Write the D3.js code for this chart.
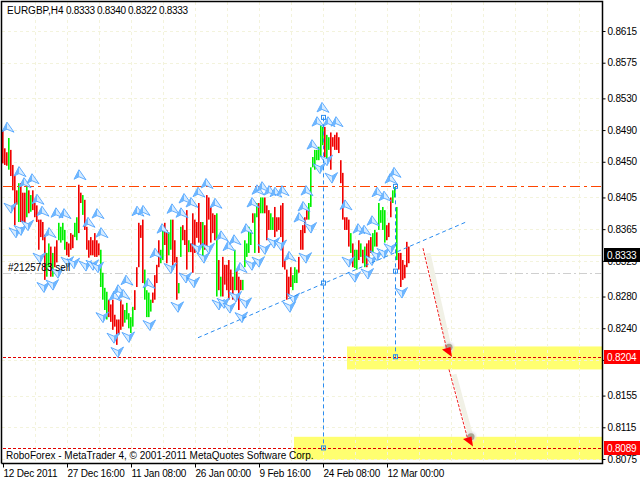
<!DOCTYPE html>
<html><head><meta charset="utf-8">
<script src="https://cdn.jsdelivr.net/npm/d3@7"></script>
<style>html,body{margin:0;padding:0;background:#fff;overflow:hidden}svg{display:block}text{font-family:"Liberation Sans",Arial,sans-serif;font-size:10px;fill:#000}</style>
</head><body><svg id="c" width="640" height="480"></svg>
<script>
const highs=[.8490,.8467,.8462,.8480,.8465,.8446,.8433,.8414,.8423,.8423,.8411,.8411,.8423,.8414,.8408,.8414,.8398,.8395,.8377,.8377,.8374,.8358,.8335,.8347,.8343,.8335,.8343,.8351,.8373,.8368,.8373,.8364,.8349,.8347,.8360,.8358,.8373,.8380,.8421,.8411,.8408,.8402,.8368,.8351,.8355,.8351,.8360,.8351,.8347,.8339,.8310,.8291,.8286,.8276,.8270,.8276,.8257,.8251,.8251,.8276,.8270,.8263,.8272,.8259,.8254,.8267,.8288,.8317,.8373,.8370,.8377,.8314,.8288,.8285,.8276,.8285,.8307,.8320,.8351,.8339,.8364,.8373,.8364,.8361,.8377,.8377,.8351,.8330,.8297,.8368,.8370,.8364,.8389,.8351,.8347,.8385,.8377,.8374,.8398,.8374,.8374,.8370,.8408,.8405,.8393,.8385,.8383,.8385,.8326,.8305,.8330,.8320,.8320,.8326,.8314,.8305,.8339,.8314,.8305,.8301,.8301,.8351,.8347,.8368,.8364,.8385,.8385,.8398,.8398,.8405,.8405,.8405,.8395,.8389,.8385,.8380,.8393,.8380,.8380,.8395,.8398,.8326,.8314,.8305,.8317,.8307,.8317,.8314,.8330,.8364,.8370,.8380,.8389,.8398,.8443,.8456,.8465,.8465,.8469,.8496,.8494,.8494,.8484,.8481,.8487,.8481,.8484,.8487,.8481,.8452,.8436,.8380,.8380,.8377,.8360,.8347,.8339,.8339,.8351,.8347,.8339,.8343,.8347,.8351,.8355,.8360,.8364,.8361,.8398,.8389,.8393,.8389,.8370,.8373,.8405,.8414,.8418,.8393,.8335,.8335,.8326,.8320,.8349,.8343];
const lows=[.8448,.8446,.8445,.8440,.8432,.8414,.8370,.8396,.8374,.8374,.8373,.8373,.8380,.8385,.8387,.8389,.8380,.8374,.8339,.8355,.8351,.8301,.8305,.8317,.8305,.8305,.8317,.8323,.8351,.8348,.8351,.8339,.8332,.8330,.8339,.8341,.8355,.8351,.8360,.8398,.8383,.8364,.8339,.8329,.8332,.8332,.8330,.8330,.8332,.8292,.8276,.8263,.8251,.8254,.8248,.8238,.8242,.8219,.8232,.8238,.8242,.8247,.8251,.8240,.8234,.8242,.8263,.8292,.8317,.8354,.8297,.8276,.8254,.8254,.8261,.8272,.8276,.8297,.8317,.8322,.8326,.8345,.8322,.8332,.8339,.8314,.8323,.8276,.8284,.8330,.8351,.8345,.8314,.8336,.8336,.8310,.8335,.8354,.8348,.8345,.8330,.8339,.8339,.8377,.8348,.8360,.8351,.8280,.8288,.8280,.8280,.8295,.8288,.8276,.8288,.8276,.8288,.8288,.8263,.8288,.8288,.8317,.8330,.8335,.8345,.8373,.8335,.8380,.8335,.8385,.8385,.8385,.8351,.8364,.8364,.8364,.8355,.8362,.8364,.8355,.8317,.8314,.8276,.8280,.8292,.8288,.8297,.8297,.8310,.8339,.8339,.8360,.8377,.8377,.8393,.8443,.8440,.8452,.8452,.8456,.8471,.8456,.8452,.8465,.8440,.8469,.8465,.8465,.8461,.8423,.8377,.8364,.8364,.8343,.8335,.8317,.8316,.8314,.8326,.8330,.8322,.8317,.8317,.8326,.8335,.8335,.8343,.8343,.8364,.8373,.8364,.8348,.8351,.8355,.8380,.8398,.8405,.8326,.8314,.8292,.8301,.8303,.8317,.8322];
const directions="ddduddddudddududdddddduududduuuudddduuddudddddddduuuudddddddduuuuuddddduuuudddduudduuddduudddudddddduddddddududddddduddduuuuuduuduuddduuddddddddduuuddddduuuuuuuuduudddddddddduduudududdduuduuuuddduuuddddddduudddu".split("");
const kiteUpBars=[2.5,8.5,11,15,17.5,20,23.5,27,31,38.5,43,47.5,49.5,56,58,60.5,62,67.5,70.5,73,76.5,80,85,89.5,91,94.5,98,102,106.5,109.5,113,116,119,122,125,127.5,130,133.5,136.5,140,143.5,148.5,150.5,152,155,157.5,160,163,167,171.5,178,181,185,187.5,191,194,196];
const kiteUpPrices=[.8493,.8437,.8423,.8428,.8402,.8387,.8360,.8385,.8384,.8433,.8373,.8384,.8360,.8280,.8288,.8282,.8300,.8387,.8388,.8296,.8334,.8365,.8390,.8385,.8403,.8398,.8411,.8422,.8397,.8356,.8343,.8351,.8316,.8365,.8398,.8414,.8418,.8413,.8411,.8413,.8330,.8379,.8393,.8413,.8471,.8500,.8518,.8500,.8500,.8395,.8365,.8363,.8375,.8411,.8406,.8428,.8436];
const kiteDownBars=[3.5,6,8.5,12,18,20,24.5,27,32,35,41,44.5,47,49.5,55,57,62.5,73,83.5,87,91,95,97,100,102.5,107.5,110,113,116,119,121,124,127.5,130.5,135,138.5,143,145,151,153.5,158,161.5,164,172.5,175.5,182,184,186.5,190,193.5,199];
const kiteDownPrices=[.8392,.8361,.8364,.8370,.8329,.8292,.8295,.8310,.8324,.8322,.8319,.8320,.8317,.8254,.8228,.8210,.8229,.8244,.8316,.8267,.8304,.8298,.8341,.8329,.8341,.8270,.8272,.8266,.8280,.8254,.8272,.8320,.8324,.8340,.8348,.8345,.8267,.8278,.8329,.8367,.8442,.8452,.8430,.8324,.8305,.8309,.8326,.8332,.8335,.8341,.8285];
const priceTicks=[.8615,.8575,.8530,.8490,.8450,.8405,.8365,.8325,.8280,.8240,.8200,.8155,.8115,.8075];
const timeLabels=["12 Dec 2011","27 Dec 16:00","11 Jan 08:00","26 Jan 00:00","9 Feb 16:00","24 Feb 08:00","12 Mar 00:00"];
const headerSymbol="EURGBP,H4";
const headerValues=[.8333,.8340,.8322,.8333];
const bid=.8333, resistance=.8419, orderLevel=.8310;
const targets=[.8204,.8089];
const zoneBars=[172,145.5], zoneTops=[.8217,.8103], zoneBottoms=[.8188,.8074];
const trendBars=[97.5,231.5], trendPrices=[.8228,.8374];
const dropBars=[160,196], dropTops=[.8506,.8419], dropBottoms=[.8089,.8204], dropMids=[.8297,.8312];
const arrowFromBars=[210,223], arrowFromPrices=[.8341,.8188], arrowToBars=[222,232.5], arrowToPrices=[.8212,.8099], ballBars=[223,234], ballPrices=[.8216,.8103];

const svg=d3.select("#c");
const L=2,R=602,T=2,B=463;
const x=d3.scaleLinear().domain([0,299.5]).range([3,602]);
const y=d3.scaleLinear().domain([.8615,.8075]).range([31,459]);
svg.selectAll(".zone").data(zoneBars).join("rect").attr("x",d=>x(d)).attr("width",(d)=>R-x(d))
  .attr("y",(d,i)=>y(zoneTops[i])).attr("height",(d,i)=>y(zoneBottoms[i])-y(zoneTops[i])).attr("fill","#ffff70");
const gridX=d3.range(16,300,16);
const gc="#f3f3dc";
svg.append("g").selectAll("line").data(gridX).join("line").attr("x1",d=>Math.round(x(d))+.5).attr("x2",d=>Math.round(x(d))+.5).attr("y1",T).attr("y2",B).attr("stroke",gc).attr("stroke-dasharray","3,3");
svg.append("g").selectAll("line").data(priceTicks).join("line").attr("x1",L).attr("x2",R).attr("y1",d=>Math.round(y(d))+.5).attr("y2",d=>Math.round(y(d))+.5).attr("stroke",gc).attr("stroke-dasharray","3,3");
const hl=(p,c,dash,x1)=>svg.append("line").attr("x1",x1||3).attr("x2",R-1).attr("y1",Math.round(y(p))+.5).attr("y2",Math.round(y(p))+.5).attr("stroke",c).attr("stroke-dasharray",dash);
hl(bid,"#f5f5c8",null);
hl(orderLevel,"#cfcfcf","8,3,2,3");
svg.append("g").selectAll("rect").data(highs).join("rect").attr("x",(d,i)=>x(i)-1).attr("width",1.6).attr("y",d=>y(d)).attr("height",(d,i)=>y(lows[i])-y(d)).attr("fill",(d,i)=>directions[i]==="u"?"#00f000":"#f00000");
hl(resistance,"#ff4500","10,4,3,4");
targets.forEach(t=>hl(t,"#e00000","3,2"));
// kites: a pale wing and a stronger wing, like the fractal arrows
const upShape="M-1,-5.5L6,4.5L-1,1.5L-6,4Z", upFacet="M-1,-5.5L-1,1.5L-6,4Z";
const downShape="M1,5.5L-6,-4.5L1,-1.5L6.5,-5Z", downFacet="M1,5.5L1,-1.5L6.5,-5Z";
const kite=(bs,ps,shape,facet)=>{
  const g=svg.append("g").selectAll("g").data(bs).join("g").attr("transform",(d,i)=>`translate(${x(d)},${y(ps[i])})`);
  g.append("path").attr("d",shape).attr("fill","#d6ebff").attr("stroke","#3d9bff").attr("stroke-width",.8);
  g.append("path").attr("d",facet).attr("fill","#6db6ff");
};
kite(kiteUpBars,kiteUpPrices,upShape,upFacet);
kite(kiteDownBars,kiteDownPrices,downShape,downFacet);
svg.append("line").attr("x1",x(trendBars[0])).attr("x2",x(trendBars[1])).attr("y1",y(trendPrices[0])).attr("y2",y(trendPrices[1])).attr("stroke","#2a8cf0").attr("stroke-width",1).attr("stroke-dasharray","4,3");
dropBars.forEach((b,i)=>{
  const X=Math.round(x(b))+.5;
  svg.append("line").attr("x1",X).attr("x2",X).attr("y1",y(dropTops[i])).attr("y2",y(dropBottoms[i])).attr("stroke","#2a8cf0").attr("stroke-dasharray","4,3");
  [dropTops[i],dropMids[i],dropBottoms[i]].forEach(p=>svg.append("rect").attr("x",X-2).attr("y",y(p)-2).attr("width",4).attr("height",4).attr("fill","none").attr("stroke","#2a8cf0"));
});
const defs=svg.append("defs");
const f=defs.append("filter").attr("id","soft");f.append("feGaussianBlur").attr("stdDeviation",.8);
arrowFromBars.forEach((b,i)=>{
  const x1=x(b),y1=y(arrowFromPrices[i]),x2=x(arrowToBars[i]),y2=y(arrowToPrices[i]);
  const bx=x(ballBars[i]),by=y(ballPrices[i]);
  svg.append("line").attr("x1",x1+5).attr("y1",y1+5).attr("x2",bx).attr("y2",by).attr("stroke","#f1f1e6").attr("stroke-width",5);
  svg.append("circle").attr("cx",bx).attr("cy",by).attr("r",5).attr("fill","#e4e0e4").attr("filter","url(#soft)");
  svg.append("circle").attr("cx",bx).attr("cy",by).attr("r",3.5).attr("fill","#a8a490");
  svg.append("line").attr("x1",x1).attr("y1",y1).attr("x2",x2).attr("y2",y2).attr("stroke","#f02020").attr("stroke-width",1).attr("stroke-dasharray","3,1.5");
  svg.append("path").attr("d",`M${x2-5},${y2-1}L${x2+3.5},${y2-3.5}L${x2+5},${y2+6.5}Z`).attr("fill","#ff0000");
});
svg.append("path").attr("d",`M${L-.5},${B+.5}V${T-.5}H${R+.5}V${B+.5}H${L-.5}`).attr("fill","none").attr("stroke","#000").attr("stroke-width",1.5);
const ya=d3.axisRight(y).tickValues(priceTicks).tickFormat(d3.format(".4f")).tickSize(3).tickPadding(2);
const yg=svg.append("g").attr("transform",`translate(${R+.5},0)`).call(ya);
const xa=d3.axisBottom(x).tickValues(timeLabels.map((d,i)=>i*32)).tickFormat((d,i)=>timeLabels[i]).tickSize(4).tickPadding(2);
const xg=svg.append("g").attr("transform",`translate(0,${B+.5})`).call(xa);
[yg,xg].forEach(g=>{g.select(".domain").remove();g.selectAll("line").attr("stroke","#000");g.selectAll("text").attr("fill","#000").style("font-size","10px").style("letter-spacing","-0.2px").style("font-family",'"Liberation Sans",Arial,sans-serif');});
xg.selectAll("text").attr("text-anchor","start").attr("dy","0.71em");
const tag=(p,bg)=>{const Y=y(p);
  svg.append("rect").attr("x",R+2).attr("y",Math.round(Y)-7).attr("width",36).attr("height",14).attr("fill",bg);
  svg.append("text").attr("x",R+5).attr("y",Math.round(Y)+4).style("fill","#fff").style("letter-spacing","-0.2px").text(d3.format(".4f")(p));};
tag(bid,"#000");
targets.forEach(t=>tag(t,"#ff0000"));
svg.append("text").attr("x",7).attr("y",14).text(headerSymbol);
svg.append("g").selectAll("text").data(headerValues).join("text").attr("x",(d,i)=>66+i*31).attr("y",14).style("letter-spacing","-0.3px").text(d3.format(".4f"));
svg.append("text").attr("x",8).attr("y",271).text("#2125783 sell");
svg.append("text").attr("x",6).attr("y",459).text("RoboForex - MetaTrader 4, © 2001-2011 MetaQuotes Software Corp.");
</script></body></html>
